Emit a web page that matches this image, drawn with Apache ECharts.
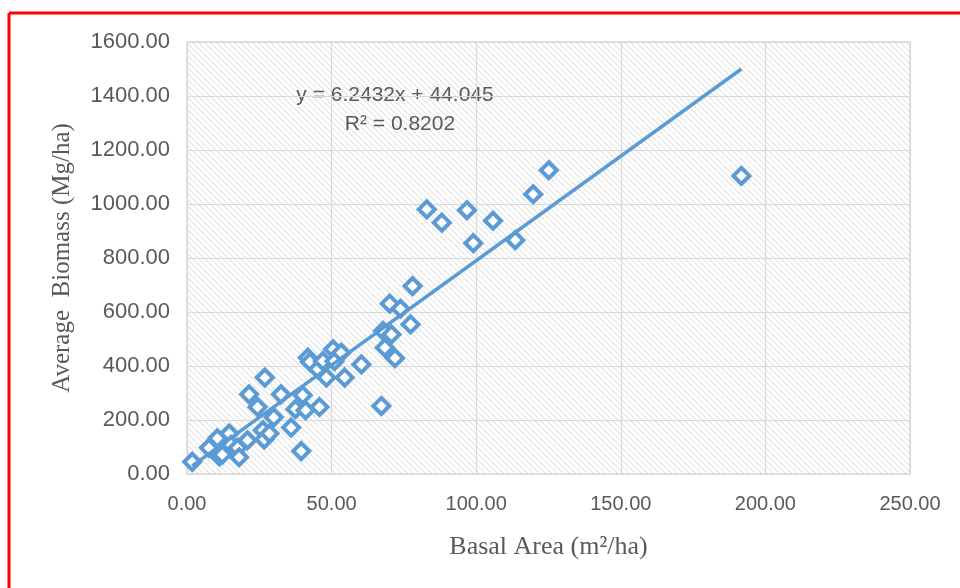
<!DOCTYPE html>
<html>
<head>
<meta charset="utf-8">
<script src="https://cdn.jsdelivr.net/npm/echarts@6/dist/echarts.min.js"></script>
<style>
  html, body { margin: 0; padding: 0; background: #fff; }
  #chart { width: 960px; height: 588px; }
</style>
</head>
<body>
<div id="chart"></div>
<script>
// basal area (m2/ha) vs average biomass (Mg/ha)
const basalArea = [
  1.8, 7.6, 10.5, 11.2, 12.2, 14.6, 15.2, 17.5, 18, 20.9,
  21.5, 24.4, 26.2, 26.7, 26.9, 28.5, 30, 32.5, 36, 37.5,
  39.5, 40, 41, 41.8, 42.5, 45.2, 45.8, 47, 48.2, 50.5,
  51, 53.3, 54.5, 60.3, 67.2, 67.8, 68.4, 70.1, 70.7, 71.9,
  73.8, 77.3, 78, 82.9, 88.1, 96.8, 99, 105.8, 113.5, 119.7,
  125.1, 191.7
]
const biomass = [
  45, 97, 132, 65, 72, 150, 108, 97, 62, 125,
  295, 248, 162, 128, 357, 150, 210, 295, 172, 240,
  85, 292, 236, 431, 415, 388, 248, 418, 357, 462,
  418, 449, 357, 406, 252, 530, 468, 631, 517, 429,
  612, 554, 696, 980, 931, 977, 855, 938, 866, 1036,
  1125, 1104
]
// trendline as drawn (ends at min and max x)
const trendX = [1.8, 191.7]
const trendY = [30, 1500]
const equationText = 'y = 6.2432x + 44.045'
const r2Text = 'R² = 0.8202'

const blue = '#5B9BD5'
const textGrey = '#595959'
const gridGrey = '#d9d9d9'

function hatch() {
  const c = document.createElement('canvas')
  c.width = 6
  c.height = 6
  const ctx = c.getContext('2d')
  ctx.fillStyle = '#ffffff'
  ctx.fillRect(0, 0, 6, 6)
  ctx.strokeStyle = '#e2e2e2'
  ctx.lineWidth = 1.1
  ctx.beginPath()
  ctx.moveTo(-1, -1); ctx.lineTo(7, 7)
  ctx.moveTo(-1, 5); ctx.lineTo(1, 7)
  ctx.moveTo(5, -1); ctx.lineTo(7, 1)
  ctx.stroke()
  return c
}

const points = basalArea.map((x, i) => [x, biomass[i]])
const trend = trendX.map((x, i) => [x, trendY[i]])

const chart = echarts.init(document.getElementById('chart'))
chart.setOption({
  animation: false,
  backgroundColor: '#ffffff',
  grid: {
    left: 187, right: 50, top: 42, bottom: 114,
    show: true,
    backgroundColor: { image: hatch(), repeat: 'repeat' },
    borderColor: gridGrey,
    borderWidth: 1.5
  },
  xAxis: {
    type: 'value',
    min: 0, max: 250, interval: 50,
    name: 'Basal Area (m²/ha)',
    nameLocation: 'middle',
    nameGap: 60,
    nameTextStyle: { fontFamily: 'Liberation Serif', fontSize: 26, color: textGrey },
    axisLine: { show: false },
    axisTick: { show: false },
    axisLabel: {
      margin: 20, fontFamily: 'Liberation Sans', fontSize: 20, color: textGrey,
      formatter: v => v.toFixed(2)
    },
    splitLine: { lineStyle: { color: gridGrey, width: 1.2 } }
  },
  yAxis: {
    type: 'value',
    min: 0, max: 1600, interval: 200,
    name: 'Average  Biomass (Mg/ha)',
    nameLocation: 'middle',
    nameGap: 112,
    nameTextStyle: { fontFamily: 'Liberation Serif', fontSize: 25, color: textGrey },
    axisLine: { show: false },
    axisTick: { show: false },
    axisLabel: {
      margin: 17, fontFamily: 'Liberation Sans', fontSize: 22, color: textGrey,
      formatter: v => v.toFixed(2)
    },
    splitLine: { lineStyle: { color: gridGrey, width: 1.2 } }
  },
  series: [
    {
      type: 'scatter',
      data: points,
      symbol: 'diamond',
      symbolSize: 16,
      itemStyle: { color: '#ffffff', borderColor: blue, borderWidth: 4, opacity: 1 },
      z: 2
    },
    {
      type: 'line',
      data: trend,
      showSymbol: false,
      lineStyle: { color: blue, width: 3.5 },
      z: 3
    }
  ],
  graphic: [
    {
      type: 'text',
      style: { text: equationText, x: 395, y: 95, align: 'center', verticalAlign: 'middle',
        fill: textGrey, font: '21px "Liberation Sans"' }
    },
    {
      type: 'text',
      style: { text: r2Text, x: 400, y: 124, align: 'center', verticalAlign: 'middle',
        fill: textGrey, font: '21px "Liberation Sans"' }
    },
    {
      type: 'line',
      shape: { x1: 9, y1: 13, x2: 962, y2: 13 },
      style: { stroke: '#ff0000', lineWidth: 3 }
    },
    {
      type: 'line',
      shape: { x1: 9, y1: 13, x2: 9, y2: 590 },
      style: { stroke: '#ff0000', lineWidth: 3 }
    }
  ]
})
</script>
</body>
</html>
